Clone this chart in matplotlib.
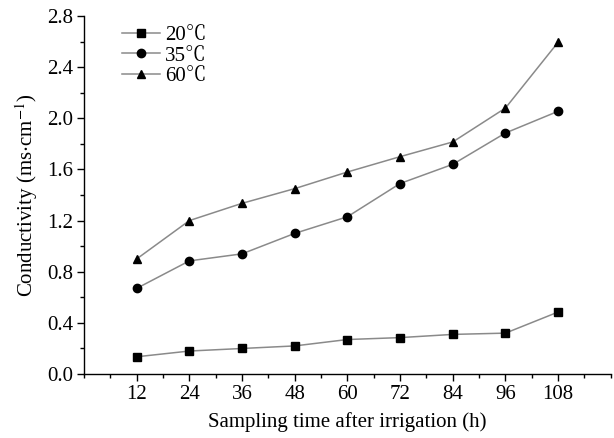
import matplotlib
matplotlib.use("Agg")
import matplotlib.pyplot as plt
from matplotlib.ticker import MultipleLocator, FixedLocator, FormatStrFormatter

plt.rcParams['font.family'] = ['Liberation Serif', 'Noto Serif CJK JP', 'DejaVu Serif']
plt.rcParams['mathtext.fontset'] = 'stix'

# Dados
horas = [12, 24, 36, 48, 60, 72, 84, 96, 108]
cond_20 = [0.135, 0.18, 0.20, 0.22, 0.27, 0.285, 0.31, 0.32, 0.485]
cond_35 = [0.67, 0.885, 0.94, 1.10, 1.23, 1.49, 1.64, 1.885, 2.055]
cond_60 = [0.90, 1.20, 1.335, 1.45, 1.58, 1.70, 1.815, 2.08, 2.595]
rotulos = ["20\u2103", "35\u2103", "60\u2103"]

fs = 15

fig = plt.figure(figsize=(6.14, 4.38), dpi=100)
ax = fig.add_axes([0.1368, 0.146, 0.858, 0.8175])

cor_linha = "#8a8a8a"
for serie, marcador, rot in zip([cond_20, cond_35, cond_60], ["s", "o", "^"], rotulos):
    ax.plot(horas, serie, color=cor_linha, lw=1.1, marker=marcador, ms=6,
            mfc="black", mec="black", label=rot)

ax.set_xlim(0, 120)
ax.set_ylim(0, 2.8)
ax.xaxis.set_major_locator(FixedLocator(horas))
ax.xaxis.set_minor_locator(MultipleLocator(6))
ax.yaxis.set_major_locator(MultipleLocator(0.4))
ax.yaxis.set_minor_locator(MultipleLocator(0.2))
ax.yaxis.set_major_formatter(FormatStrFormatter("%.1f"))

for lado in ["top", "right"]:
    ax.spines[lado].set_visible(False)
for lado in ["left", "bottom"]:
    ax.spines[lado].set_linewidth(1.0)

ax.tick_params(axis="both", which="major", direction="out", length=5, width=1,
               labelsize=fs, pad=3)
ax.tick_params(axis="both", which="minor", direction="out", length=3, width=1)

ax.set_xlabel("Sampling time after irrigation (h)", fontsize=fs, labelpad=6)
ax.set_ylabel("Conductivity (ms$\\cdot$cm$^{-1}$)", fontsize=fs, labelpad=5)

ax.legend(loc="upper left", bbox_to_anchor=(0.055, 1.0), frameon=False,
          fontsize=fs, handlelength=1.8, handletextpad=0.25,
          labelspacing=0.05, borderaxespad=0.05)

fig.savefig("out.png", dpi=100)
